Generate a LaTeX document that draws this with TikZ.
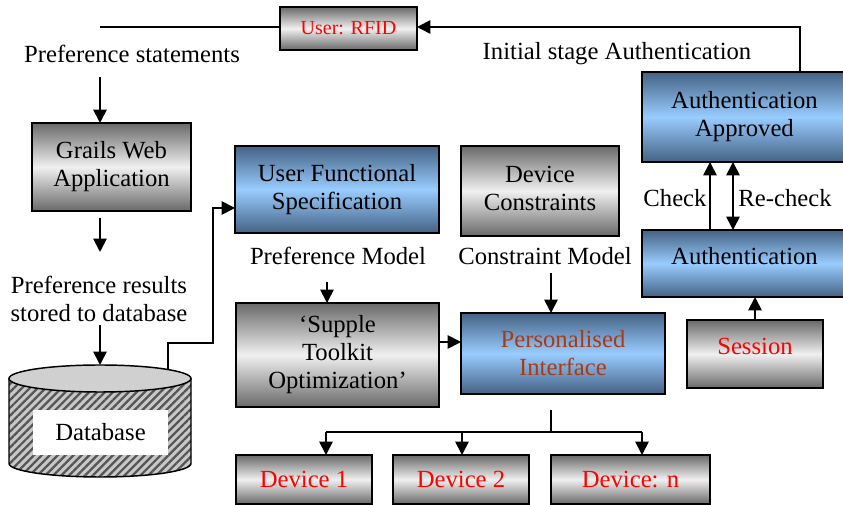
\documentclass[tikz,border=0pt]{standalone}
\usepackage{fontspec}
\setmainfont{Liberation Serif}
\usetikzlibrary{arrows.meta,patterns.meta}
\definecolor{gdark}{RGB}{105,105,105}
\definecolor{glight}{RGB}{240,240,240}
\definecolor{bdark}{RGB}{68,98,132}
\definecolor{blight}{RGB}{153,204,255}
\definecolor{brick}{RGB}{170,58,20}
\definecolor{myred}{RGB}{255,0,0}
\definecolor{dbtopc}{RGB}{208,208,208}
\definecolor{dbback}{RGB}{200,200,200}
\definecolor{dbline}{RGB}{85,85,85}
\newcommand\mainf{\fontsize{18.5}{21}\selectfont}
\newcommand\smallf{\fontsize{15}{18}\selectfont}
\newcommand\mkbox[7]{\node[#2, minimum width={(#5-#3)*0.75pt}, minimum height={(#6-#4)*0.75pt}] (#1) at ({(#3+#5)/2},{(#4+#6)/2}) {#7};}
\tikzset{
  box/.style={draw=black, line width=1.1pt, inner sep=1pt, outer sep=0pt, align=center, font=\mainf},
  gbox/.style={box, top color=gdark, bottom color=gdark, middle color=glight},
  bbox/.style={box, top color=bdark, bottom color=bdark, middle color=blight},
  lbl/.style={font=\mainf, inner sep=1pt, align=center},
  conn/.style={line width=1.3pt},
  arr/.style={conn, -{Triangle[width=10pt,length=10pt]}},
  arrtwo/.style={conn, {Triangle[width=10pt,length=10pt]}-{Triangle[width=10pt,length=10pt]}},
}
\begin{document}
\begin{tikzpicture}[x=0.75pt,y=-0.75pt]
\clip (0,0) rectangle (843,505);
\useasboundingbox (0,0) rectangle (843,505);

% boxes
\mkbox{rfid}{gbox,font=\smallf,text=myred}{280}{7}{417}{50}{\raisebox{-2pt}{User: RFID}}
\mkbox{grails}{gbox}{32}{123}{191}{211}{Grails Web\\Application}
\mkbox{ufs}{bbox}{235}{146}{439}{233}{\raisebox{4pt}{\begin{tabular}{@{}c@{}}User Functional\\Specification\end{tabular}}}
\mkbox{dc}{gbox}{461}{146}{619}{236}{\raisebox{9pt}{\begin{tabular}{@{}c@{}}Device\\Constraints\end{tabular}}}
\mkbox{supple}{gbox}{236}{303}{439}{407}{‘Supple\\Toolkit\\Optimization’}
\mkbox{pers}{bbox,text=brick}{461}{313}{665}{394}{Personalised\\Interface}
\mkbox{dev1}{gbox,text=myred}{236}{455}{372}{504}{Device 1}
\mkbox{dev2}{gbox,text=myred}{393}{455}{529}{504}{Device 2}
\mkbox{devn}{gbox,text=myred}{551}{455}{710}{504}{Device: n}
\mkbox{authA}{bbox}{642}{72}{847}{162}{\raisebox{4pt}{\begin{tabular}{@{}c@{}}Authentication\\Approved\end{tabular}}}
\mkbox{auth}{bbox}{642}{230}{847}{297}{\raisebox{12pt}{Authentication}}
\mkbox{session}{gbox,text=myred}{687}{320}{823}{388}{\raisebox{12pt}{Session}}

% database cylinder
\fill[dbback] (9,378.5) -- (9,463.5) arc[start angle=180,end angle=0,x radius=91,y radius=13.5] -- (191,378.5) -- cycle;
\fill[pattern={Lines[angle=45,distance=4.2pt,line width=1.7pt]}, pattern color=dbline]
  (9,378.5) -- (9,463.5) arc[start angle=180,end angle=0,x radius=91,y radius=13.5] -- (191,378.5) -- cycle;
\draw[line width=1.1pt] (9,378.5) -- (9,463.5) arc[start angle=180,end angle=0,x radius=91,y radius=13.5] -- (191,378.5);
\draw[line width=1.1pt, fill=dbtopc] (100,378.5) ellipse [x radius=91, y radius=13.5];
\mkbox{db}{fill=white, inner sep=0pt, outer sep=0pt, font=\mainf}{33}{410}{168}{455}{Database}

% labels
\node[lbl] (pstmt) at (132,54) {Preference statements};
\node[lbl] (init) at (617,54) {Initial stage Authentication};
\node[lbl] (pres) at (99,299) {Preference results\\stored to database};
\node[lbl] (pmodel) at (338,256) {Preference Model};
\node[lbl] (cmodel) at (545,256) {Constraint Model};
\node[lbl] (check) at (675,198) {Check};
\node[lbl] (recheck) at (785,198) {Re-check};

% helper coordinates
\coordinate (rfidL) at (100,27);
\coordinate (c800) at (800,27);
\coordinate (a1) at (100,77);
\coordinate (a1b) at (100,218);
\coordinate (a2) at (100,252);
\coordinate (a3) at (100,325);
\coordinate (dbin) at (100,365);
\coordinate (dbtop) at (168,369);
\coordinate (dbj1) at (168,343);
\coordinate (dbj2) at (213,343);
\coordinate (dbj3) at (213,208);
\coordinate (pm) at (327,282);
\coordinate (cm) at (551,273);
\coordinate (sp) at (439,342);
\coordinate (b0) at (551,410);
\coordinate (bj) at (551,432);
\coordinate (h1) at (326,432);
\coordinate (h2) at (462,432);
\coordinate (h3) at (642,432);
\coordinate (ck) at (710,200);
\coordinate (rk) at (733,200);

% connectors
\draw[conn] (rfid.west |- rfidL) -- (rfidL);
\draw[arr] (authA.north -| c800) -- (c800) -- (rfid.east |- c800);
\draw[arr] (a1) -- (grails.north -| a1);
\draw[arr] (a1b) -- (a2);
\draw[arr] (a3) -- (dbin);
\draw[arr] (dbtop) -- (dbj1) -- (dbj2) -- (dbj3) -- (ufs.west |- dbj3);
\draw[arr] (pm) -- (supple.north -| pm);
\draw[arr] (cm) -- (pers.north -| cm);
\draw[arr] (sp) -- (pers.west |- sp);
\draw[conn] (b0) -- (bj);
\draw[conn] (h1) -- (h3);
\draw[arr] (h1) -- (dev1.north -| h1);
\draw[arr] (h2) -- (dev2.north -| h2);
\draw[arr] (h3) -- (devn.north -| h3);
\draw[arr] (auth.north -| ck) -- (authA.south -| ck);
\draw[arrtwo] (authA.south -| rk) -- (auth.north -| rk);
\draw[arr] (session.north) -- (auth.south -| session.north);
\end{tikzpicture}
\end{document}
